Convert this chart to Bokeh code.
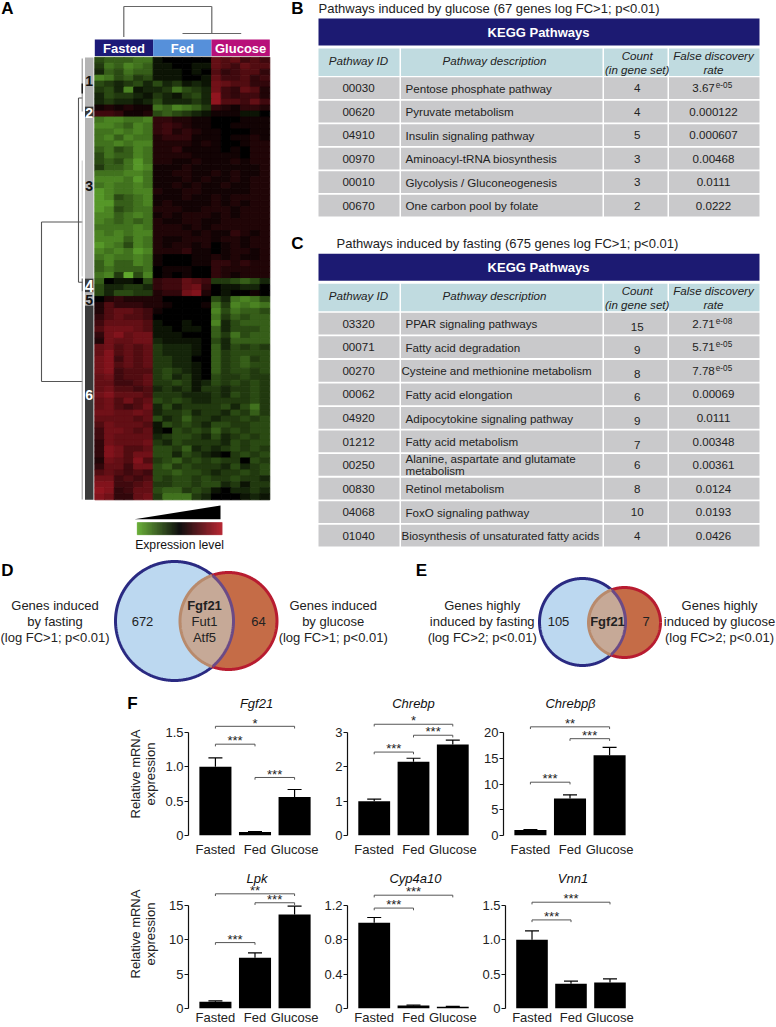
import numpy as np
from bokeh.plotting import figure
from bokeh.layouts import column, row
from bokeh.models import (ColumnDataSource, FactorRange, FixedTicker, LinearColorMapper,
                          Range1d, TeeHead, Whisker)
from bokeh.core.properties import value
from bokeh.embed import file_html
from bokeh.resources import INLINE

FONT = "Liberation Sans"

# ---- heat map: one string per row, 18 samples (6 fasted, 6 fed, 6 glucose)
# 0 black, 1-9 red levels, a-i green levels
cluster1 = ["deeeffa00000656454", "cfegfeaa00aa654655", "bedfeeaaa0a0534553", "gfdecdaaa00a644534",
            "dcbcdbdbcaba765533", "cdbgabbcfdcb743652", "bdccbacbacdb943442", "bcbbabdbbbcb955464"]
cluster2 = ["121211fegfec321332", "443112dedcba111aa0"]
cluster3 = ["fggffg332211000111", "ggfegf343211001111", "ffgfgf342321100011", "fgegff233311101121",
            "ffgfgg222212100122", "efdegf223111101022", "dfeegf222211111022", "dedfhf221121112122",
            "ceefhg111211111112", "fffggf112211212112", "gggfhf111212112122", "fgffgf112121121122",
            "hgffgg211221111122", "hgdefg111211212222", "hheefg121111212122", "hgdeff222112221222",
            "ggefgf121222121222", "gfefef211221122222", "ffffgf222121222222", "gfgfgg222212113212",
            "gggegf211222122122", "hgfdgf212212012122", "gfgfhg222311012212", "fgffgf100011212112",
            "egeegf100011332322", "efeeef011100322222", "fgcidg010100321222"]
cluster4 = ["e0aa0d344654ccdedb", "dbbccb3446730aabb0", "dbddcc2337820a0010"]
cluster5 = ["023222200000dbfgfd", "253332210001fcgfgf"]
cluster6 = ["256654100000gdfeed", "356554000000fcedee", "466665a00a00gbdeee", "577765aa0aa0ebddde",
            "378677aaa000ecfdee", "276677baaaa0dbeeee", "675656cbbba0ebdcdc", "685656cbbba0ecdddd",
            "784656ccbb00ecdecd", "785656ccbba0ecdedd", "784555cdcba0ecddcd", "674556cdbca0dccdcc",
            "664456ccdcabdcdcdc", "675545bcbcaccbccdc", "786665cccbbbcbdcdc", "675756dcdcbbccccdc",
            "675457bdbccccdbdfc", "776676bccdbccbdcec", "666656dbceccbccdcd", "576665adcdcbddccdd",
            "477656a0dcdcecdcdd", "476666bcddcbdbcdcd", "376667cbdccccbdcdd", "387556ddcebcbcdcdc",
            "387577ddbdcba0cdcd", "276585cdecdcdcc0dc", "366477decdcccbdbcd", "565454ddeddcbccdcd",
            "774545dcddcdccdccb", "884456ccddcddbcacc", "983466deecdca0bbcb", "873367cfffcb000aba"]
groups = ["Fasted", "Fed", "Glucose"]
group_colors = ["#1c1a78", "#5690da", "#b8107a"]

# ---- tables
b_ids = ["00030", "00620", "04910", "00970", "00010", "00670"]
b_desc = ["Pentose phosphate pathway", "Pyruvate metabolism", "Insulin signaling pathway",
          "Aminoacyl-tRNA biosynthesis", "Glycolysis / Gluconeogenesis", "One carbon pool by folate"]
b_count = ["4", "4", "5", "3", "3", "2"]
b_fdr = ["3.67e-05", "0.000122", "0.000607", "0.00468", "0.0111", "0.0222"]
c_ids = ["03320", "00071", "00270", "00062", "04920", "01212", "00250", "00830", "04068", "01040"]
c_desc = ["PPAR signaling pathways", "Fatty acid degradation", "Cysteine and methionine metabolism",
          "Fatty acid elongation", "Adipocytokine signaling pathway", "Fatty acid metabolism",
          "Alanine, aspartate and glutamate\nmetabolism", "Retinol metabolism",
          "FoxO signaling pathway", "Biosynthesis of unsaturated fatty acids"]
c_count = ["15", "9", "8", "6", "9", "7", "6", "8", "10", "4"]
c_fdr = ["2.71e-08", "5.71e-05", "7.78e-05", "0.00069", "0.0111", "0.00348", "0.00361", "0.0124", "0.0193", "0.0426"]

# ---- bar panels
cats = ["Fasted", "Fed", "Glucose"]
fgf21_v, fgf21_e = [1.0, 0.05, 0.56], [1.13, 0.055, 0.67]
chrebp_v, chrebp_e = [1.0, 2.15, 2.65], [1.06, 2.25, 2.78]
chrebpb_v, chrebpb_e = [1.05, 7.2, 15.6], [1.15, 7.9, 17.1]
lpk_v, lpk_e = [1.0, 7.4, 13.7], [1.1, 8.1, 14.9]
cyp_v, cyp_e = [1.0, 0.035, 0.02], [1.06, 0.04, 0.025]
vnn1_v, vnn1_e = [1.0, 0.36, 0.38], [1.13, 0.4, 0.43]
fgf21_b = [("Fasted", "Glucose", 1.59, "*"), ("Fasted", "Fed", 1.33, "***"), ("Fed", "Glucose", 0.845, "***")]
chrebp_b = [("Fasted", "Glucose", 3.24, "*"), ("Fed", "Glucose", 2.92, "***"), ("Fasted", "Fed", 2.43, "***")]
chrebpb_b = [("Fasted", "Glucose", 21.1, "**"), ("Fed", "Glucose", 18.8, "***"), ("Fasted", "Fed", 10.35, "***")]
lpk_b = [("Fasted", "Glucose", 16.7, "**"), ("Fed", "Glucose", 15.4, "***"), ("Fasted", "Fed", 9.6, "***")]
cyp_b = [("Fasted", "Glucose", 1.32, "***"), ("Fasted", "Fed", 1.17, "***")]
vnn1_b = [("Fasted", "Glucose", 1.548, "***"), ("Fasted", "Fed", 1.29, "***")]

TOP_H = 712
top = figure(width=776, height=TOP_H, x_range=Range1d(0, 776), y_range=Range1d(TOP_H, 0),
             x_axis_location=None, y_axis_location=None, toolbar_location=None,
             output_backend="svg", min_border=0, outline_line_color=None, background_fill_color="white")
top.grid.visible = False


def T(x, y, s, size=13, bold=False, italic=False, color="#222222", align="center", fig=top):
    style = "bold italic" if bold and italic else "bold" if bold else "italic" if italic else "normal"
    fig.text(x=[x], y=[y], text=[s], text_font=value(FONT), text_font_size=f"{size}px",
             text_font_style=style, text_color=color, text_align=align, text_baseline="middle")


def box(x0, x1, y0, y1, color):
    top.quad(left=[x0], right=[x1], top=[y0], bottom=[y1], fill_color=color, line_color=None)


def seg(x0, y0, x1, y1, color="#555555", w=1.0):
    top.segment(x0=[x0], y0=[y0], x1=[x1], y1=[y1], line_color=color, line_width=w)


# panel letters
for s, x, y in [("A", 7, 8), ("B", 297, 8), ("C", 297, 243), ("D", 7, 570), ("E", 421, 570), ("F", 132, 703)]:
    T(x, y, s, size=17, bold=True, color="#000000")

# ---- heat map
rows_all = cluster1 + cluster2 + cluster3 + cluster4 + cluster5 + cluster6
HX0, HX1, HY0, HY1 = 94.3, 269.3, 56.7, 499.3
nr, nc = len(rows_all), 18
dx, dy = (HX1 - HX0) / nc, (HY1 - HY0) / nr


def level(ch):
    return int(ch) / 11 if ch.isdigit() else -(ord(ch) - 96) / 9


anchors = np.array([[96, 168, 44], [0, 0, 0], [176, 26, 38]], dtype=float)
t = np.linspace(0, 2, 101)
pal = ["#%02x%02x%02x" % tuple(int(round(np.interp(v, [0, 1, 2], anchors[:, k]))) for k in range(3)) for v in t]
mapper = LinearColorMapper(palette=pal, low=-1, high=1)
L, R, Tp, B, V = [], [], [], [], []
for i, r_ in enumerate(rows_all):
    for j, ch in enumerate(r_):
        L.append(HX0 + j * dx); R.append(HX0 + (j + 1) * dx)
        Tp.append(HY0 + i * dy); B.append(HY0 + (i + 1) * dy); V.append(level(ch))
hs = ColumnDataSource(dict(left=L, right=R, top=Tp, bottom=B, v=V))
top.quad(left="left", right="right", top="top", bottom="bottom", source=hs,
         fill_color={"field": "v", "transform": mapper},
         line_color={"field": "v", "transform": mapper}, line_width=0.9)

# group headers
for i, (g, c) in enumerate(zip(groups, group_colors)):
    x0 = HX0 + i * 6 * dx
    box(x0, x0 + 6 * dx, 39, 55.5, c)
    T(x0 + 3 * dx, 47.5, g, size=13, bold=True, color="white")

# cluster side bar
GREY, DARK = "#b4b4b4", "#3a3a3a"
for y0, y1, c in [(57, 106, GREY), (106, 117, DARK), (117, 278, GREY), (278, 292, DARK), (292, 305, GREY), (305, 499.3, DARK)]:
    box(84.5, 93, y0, y1, c)
for s, y, c, sz in [("1", 80, "#111111", 14), ("2", 112, "white", 14), ("3", 185, "#111111", 14),
                    ("4", 285, "white", 16), ("5", 299, "#111111", 14), ("6", 394, "white", 14)]:
    T(88.7, y, s, size=sz, bold=True, color=c)

# dendrograms
for a in [(123.3, 36.5, 123.3, 6), (123.3, 6, 211.3, 6), (211.3, 6, 211.3, 33), (182, 33, 240.7, 33)]:
    seg(*a, color="#666666", w=1.2)
for a in [(41, 221.5, 78, 221.5), (41, 221.5, 41, 381), (41, 381, 82, 381), (78, 97.5, 82, 97.5),
          (78, 97.5, 78, 281.7), (78, 281.7, 82, 281.7), (78, 221.5, 82, 221.5)]:
    seg(*a, color="#555555", w=1.1)
seg(81.7, 58, 81.7, 111, color="#888888", w=1.0)
seg(81.7, 83, 81.7, 93, color="#111111", w=1.4)
seg(81.7, 160, 81.7, 276, color="#bbbbbb", w=0.8)
seg(81.7, 278, 81.7, 291, color="#444444", w=1.0)
seg(81.7, 291, 81.7, 499, color="#999999", w=1.0)

# expression legend
top.patch(x=[134, 220, 220], y=[518.7, 505, 518.7], fill_color="black", line_color=None)
n_leg = 85
gx = np.linspace(136.7, 221.7, n_leg + 1)
leg = ColumnDataSource(dict(left=gx[:-1], right=gx[1:], v=np.linspace(-1, 1, n_leg),
                            top=[522] * n_leg, bottom=[534.3] * n_leg))
top.quad(left="left", right="right", top="top", bottom="bottom", source=leg,
         fill_color={"field": "v", "transform": mapper},
         line_color={"field": "v", "transform": mapper}, line_width=0.4)
T(179, 544, "Expression level", size=12.2, color="#111111")


# ---- tables
COLS = [(318, 399), (400.5, 602), (603.5, 667), (668.5, 759)]
XID, XDESC, XCNT, XFDR = 358, 405, 636.7, 713


def table(title, title_x, ys, ids, desc, counts, fdrs, row_y0, pitch, count_shift=0):
    T(title_x, ys - 10, title, size=13, align="left")
    box(318, 759, ys, ys + 27, "#1c1a72")
    T(538, ys + 13.5, "KEGG Pathways", size=13, bold=True, color="white")
    for c0, c1 in COLS:
        box(c0, c1, ys + 30, ys + 57.5, "#c0dbe0")
    T(XID, ys + 42, "Pathway ID", size=11.6, italic=True)
    T(494, ys + 42, "Pathway description", size=11.6, italic=True)
    T(XCNT, ys + 37, "Count", size=11.6, italic=True)
    T(XCNT, ys + 51, "(in gene set)", size=11.6, italic=True)
    T(XFDR, ys + 37, "False discovery", size=11.6, italic=True)
    T(XFDR, ys + 51, "rate", size=11.6, italic=True)
    for i, (a, d, n, f) in enumerate(zip(ids, desc, counts, fdrs)):
        y0 = row_y0 + i * pitch
        for c0, c1 in COLS:
            box(c0, c1, y0, y0 + pitch - 1.8, "#c9c9cb")
        yc = y0 + 11
        T(XID, yc, a, size=11.6)
        if "\n" in d:
            a1, a2 = d.split("\n")
            T(XDESC, yc - 6.2, a1, size=11.6, align="left")
            T(XDESC, yc + 5.8, a2, size=11.6, align="left")
        else:
            T(401 if len(d) > 33 else XDESC, yc, d, size=11.6, align="left")
        T(XCNT, yc + (count_shift if i < 6 else 0), n, size=11.6)
        if "e" in f:
            m, e = f.split("e")
            T(XFDR - 10, yc, m, size=11.6)
            T(XFDR + 10.5, yc - 3, "e" + e, size=8.2)
        else:
            T(XFDR, yc, f, size=11.6)


table("Pathways induced by glucose (67 genes log FC>1; p<0.01)", 318, 18, b_ids, b_desc, b_count, b_fdr, 76.7, 23.5)
table("Pathways induced by fasting (675 genes log FC>1; p<0.01)", 336, 253.3, c_ids, c_desc, c_count, c_fdr, 312.3, 23.55, count_shift=3)


# ---- venn diagrams
def ell(cx, cy, rx, ry, th):
    return cx + rx * np.cos(th), cy + ry * np.sin(th)


def venn(b, r):
    top.ellipse(x=[b[0]], y=[b[1]], width=[2 * b[2]], height=[2 * b[3]], fill_color="#bcd8f0", line_color=None)
    top.ellipse(x=[r[0]], y=[r[1]], width=[2 * r[2]], height=[2 * r[3]], fill_color="#c56c47", line_color=None)
    tb = np.linspace(-np.pi, np.pi, 721)
    tr = np.linspace(0, 2 * np.pi, 721)
    bx, by = ell(*b, tb)
    rx, ry = ell(*r, tr)
    ib = ((bx - r[0]) / r[2]) ** 2 + ((by - r[1]) / r[3]) ** 2 <= 1
    ir = ((rx - b[0]) / b[2]) ** 2 + ((ry - b[1]) / b[3]) ** 2 <= 1
    top.patch(x=np.r_[bx[ib], rx[ir]], y=np.r_[by[ib], ry[ir]], fill_color="#c6a997", line_color=None)
    for xs, ys, inside, outer in [(bx, by, ib, "#2a2a82"), (rx, ry, ir, "#b81c30")]:
        first, last = np.where(inside)[0][[0, -1]]
        top.line(xs[:first + 1], ys[:first + 1], line_color=outer, line_width=3)
        top.line(xs[last:], ys[last:], line_color=outer, line_width=3)
    top.line(bx[ib], by[ib], line_color="#6b4a86", line_width=3)
    top.line(rx[ir], ry[ir], line_color="#b88a6c", line_width=3)


venn((174, 620.5, 59, 59.5), (228, 620.5, 48.5, 48.5))
venn((582, 621.5, 43, 43.5), (624, 622, 36, 35))
for x, lines in [(54.5, ["Genes induced", "by fasting", "(log FC>1; p<0.01)"]),
                 (332.7, ["Genes induced", "by glucose", "(log FC>1; p<0.01)"]),
                 (481.7, ["Genes highly", "induced by fasting", "(log FC>2; p<0.01)"]),
                 (719, ["Genes highly", "induced by glucose", "(log FC>2; p<0.01)"])]:
    for y, s in zip([605, 621, 637], lines):
        T(x, y, s, size=13)
T(142, 620.5, "672"); T(258, 620.5, "64")
T(204, 605, "Fgf21", bold=True); T(204, 621, "Fut1"); T(204, 637, "Atf5")
T(558, 621, "105"); T(607, 621, "Fgf21", bold=True); T(645.5, 621, "7")
for x, s in [(256, "Fgf21"), (413, "Chrebp"), (570, "Chrebp\u03b2")]:
    T(x, 702.7, s, italic=True, color="#111111")


# ---- bar panels
def bars(vals, errs, brackets, ticks, labels, fig_w, left, frame_h, axis_px, bottom, standoff, title=None, title_dy=0, ylabel=None, yl_standoff=6):
    axis_max = ticks[-1]
    y_end = axis_max * frame_h / axis_px
    p = figure(width=fig_w, height=frame_h + bottom, toolbar_location=None, output_backend="svg",
               x_range=FactorRange(*cats, range_padding=0.18, range_padding_units="absolute"),
               y_range=Range1d(0, y_end), min_border_left=left, min_border_right=0, min_border_top=0,
               min_border_bottom=0, outline_line_color=None)
    p.grid.visible = False
    src = ColumnDataSource(dict(x=cats, v=vals, e=errs))
    p.add_layout(Whisker(base="x", upper="e", lower="v", source=src, line_color="black", line_width=1.2,
                         upper_head=TeeHead(size=14, line_color="black", line_width=1.2), lower_head=None))
    p.vbar(x="x", top="v", width=0.81, source=src, fill_color="black", line_color=None)
    drop = axis_max * 2.2 / axis_px
    star = axis_max * 0.8 / axis_px
    for a, b, y, s in brackets:
        p.segment(x0=[a], x1=[b], y0=[y], y1=[y], line_color="#555555", line_width=1)
        p.segment(x0=[a, b], x1=[a, b], y0=[y, y], y1=[y - drop, y - drop], line_color="#555555", line_width=1)
        mid = {("Fasted", "Glucose"): "Fed", ("Fasted", "Fed"): "Fasted", ("Fed", "Glucose"): "Fed"}[(a, b)]
        off = {("Fasted", "Glucose"): 0, ("Fasted", "Fed"): 19.6, ("Fed", "Glucose"): 19.6}[(a, b)]
        p.text(x=[mid], y=[y + star], x_offset=off, y_offset=5, text=[s], text_font=value(FONT),
               text_font_size="13px", text_color="#222222", text_align="center", text_baseline="bottom")
    if title:
        p.text(x=["Fed"], y=[y_end], y_offset=title_dy, x_offset=2, text=[title], text_font=value(FONT),
               text_font_size="13px", text_font_style="italic", text_color="#111111",
               text_align="center", text_baseline="middle")
    ya = p.yaxis[0]
    ya.ticker = FixedTicker(ticks=ticks)
    ya.major_label_overrides = {t_: l for t_, l in zip(ticks, labels)}
    ya.bounds = (0, axis_max)
    ya.major_tick_out = 4; ya.major_tick_in = 0; ya.minor_tick_line_color = None
    ya.major_label_standoff = 1
    ya.axis_line_color = "#111111"; ya.major_tick_line_color = "#111111"
    ya.axis_line_width = 1.2; ya.major_tick_line_width = 1.2
    ya.major_label_text_font = FONT; ya.major_label_text_font_size = "13px"; ya.major_label_text_color = "#222222"
    if ylabel:
        ya.axis_label = ylabel
        ya.axis_label_text_font = FONT; ya.axis_label_text_font_size = "13px"
        ya.axis_label_text_font_style = "normal"; ya.axis_label_text_color = "#222222"
        ya.axis_label_standoff = yl_standoff
        ya.axis_label_text_line_height = 1.0
    xa = p.xaxis[0]
    xa.axis_line_color = None; xa.major_tick_line_color = None; xa.minor_tick_line_color = None
    xa.major_tick_out = 0; xa.major_tick_in = 0
    xa.major_label_text_font = FONT; xa.major_label_text_font_size = "13px"; xa.major_label_text_color = "#222222"
    xa.major_label_standoff = standoff
    return p


YL = "Relative mRNA\nexpression"
R1 = dict(frame_h=123, axis_px=103, bottom=24, standoff=6)
R2 = dict(frame_h=149, axis_px=103, bottom=19, standoff=1, title_dy=19)
p1 = bars(fgf21_v, fgf21_e, fgf21_b, [0, 0.5, 1.0, 1.5], ["0", "0.5", "1.0", "1.5"], 321, 188, ylabel=YL, yl_standoff=4, **R1)
p2 = bars(chrebp_v, chrebp_e, chrebp_b, [0, 1, 2, 3], ["0", "1", "2", "3"], 158, 26, **R1)
p3 = bars(chrebpb_v, chrebpb_e, chrebpb_b, [0, 5, 10, 15, 20], ["0", "5", "10", "15", "20"], 157, 24, **R1)
p4 = bars(lpk_v, lpk_e, lpk_b, [0, 5, 10, 15], ["0", "5", "10", "15"], 321, 188, title="Lpk", ylabel=YL, yl_standoff=8, **R2)
p5 = bars(cyp_v, cyp_e, cyp_b, [0, 0.4, 0.8, 1.2], ["0", "0.4", "0.8", "1.2"], 158, 26, title="Cyp4a10", **R2)
p6 = bars(vnn1_v, vnn1_e, vnn1_b, [0, 0.5, 1.0, 1.5], ["0", "0.5", "1.0", "1.5"], 157, 24, title="Vnn1", **R2)

page = column(top, row(p1, p2, p3, spacing=0), row(p4, p5, p6, spacing=0), spacing=0)
open("out.html", "w").write(file_html(page, INLINE))
